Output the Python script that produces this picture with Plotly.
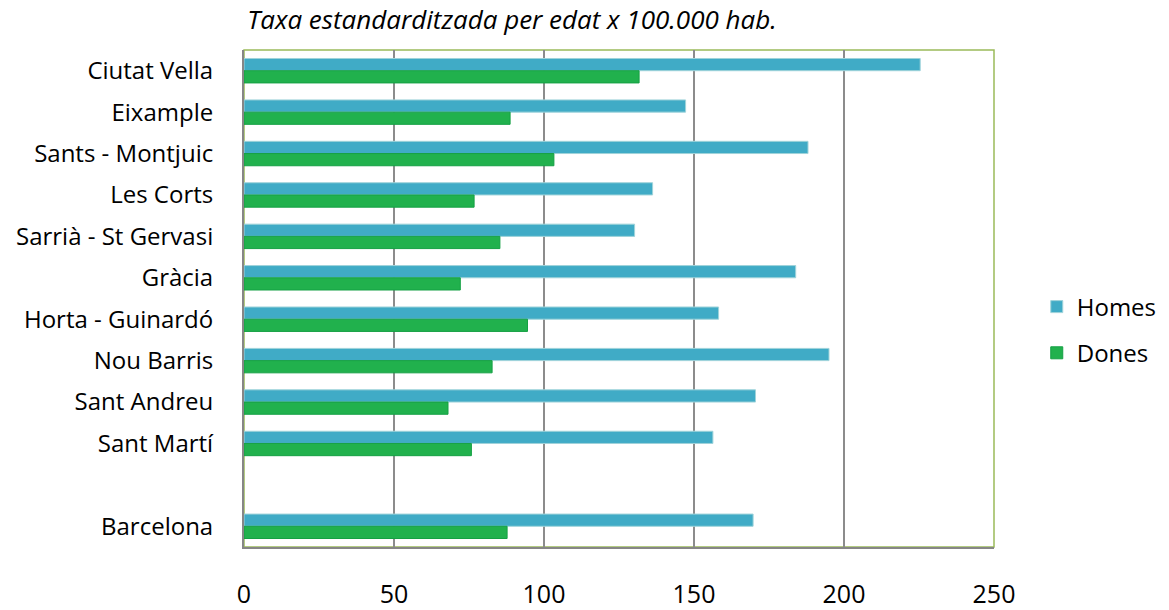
import plotly.graph_objects as go

districts = ["Ciutat Vella", "Eixample", "Sants - Montjuic", "Les Corts",
             "Sarrià - St Gervasi", "Gràcia", "Horta - Guinardó", "Nou Barris",
             "Sant Andreu", "Sant Martí", " ", "Barcelona"]
homes = [225.4, 147.2, 188.0, 136.2, 130.2, 183.9, 158.2, 195.0, 170.5, 156.3, None, 169.7]
dones = [131.7, 88.7, 103.3, 76.7, 85.3, 72.1, 94.5, 82.7, 68.0, 75.8, None, 87.7]
x_ticks = [0, 50, 100, 150, 200, 250]
title_text = "Taxa estandarditzada per edat x 100.000 hab."

FONT = "Open Sans"

fig = go.Figure()
fig.add_trace(go.Bar(
    y=districts, x=homes, orientation="h", name="Homes",
    marker=dict(color="#40ABC6", line=dict(color="#9FD3DA", width=1)),
    legendgroup="a",
))
fig.add_trace(go.Bar(
    y=districts, x=dones, orientation="h", name="Dones",
    marker=dict(color="#21B14D", line=dict(color="#15A044", width=1)),
    legendgroup="b",
))

fig.update_layout(
    width=1169, height=610,
    paper_bgcolor="white", plot_bgcolor="white",
    margin=dict(l=244, r=175, t=50, b=63, autoexpand=False),
    barmode="group", bargap=0.41, bargroupgap=0,
    font=dict(family=FONT, size=24, color="#000000"),
    title=dict(text="<i>" + title_text + "</i>", x=0.438, xanchor="center",
               xref="container", yref="container",
               y=0.968, yanchor="middle",
               font=dict(family=FONT, size=26, color="#000000")),
    legend=dict(x=1.057, xanchor="left", y=0.4366, yanchor="middle",
                font=dict(family=FONT, size=24), tracegroupgap=12,
                traceorder="grouped", itemwidth=30),
    shapes=[dict(type="rect", xref="paper", yref="paper", x0=0, x1=1, y0=0, y1=1,
                 line=dict(color="#9BBB59", width=1.5), layer="below")],
)
fig.update_xaxes(
    range=[0, 250], tickvals=x_ticks, showgrid=True, gridcolor="#8C8C8C", gridwidth=1.5,
    showline=True, linecolor="#868686", linewidth=2, zeroline=False, automargin=False,
    ticks="", ticklabelstandoff=24, tickfont=dict(family=FONT, size=25),
)
fig.update_yaxes(
    autorange="reversed", categoryorder="array", categoryarray=districts,
    showgrid=False, showline=True, linecolor="#868686", linewidth=2, automargin=False,
    ticks="", ticklabelstandoff=24, tickfont=dict(family=FONT, size=24),
)

fig.write_html("out.html", config={"displayModeBar": False},
               post_script="document.body.style.margin='0';")
